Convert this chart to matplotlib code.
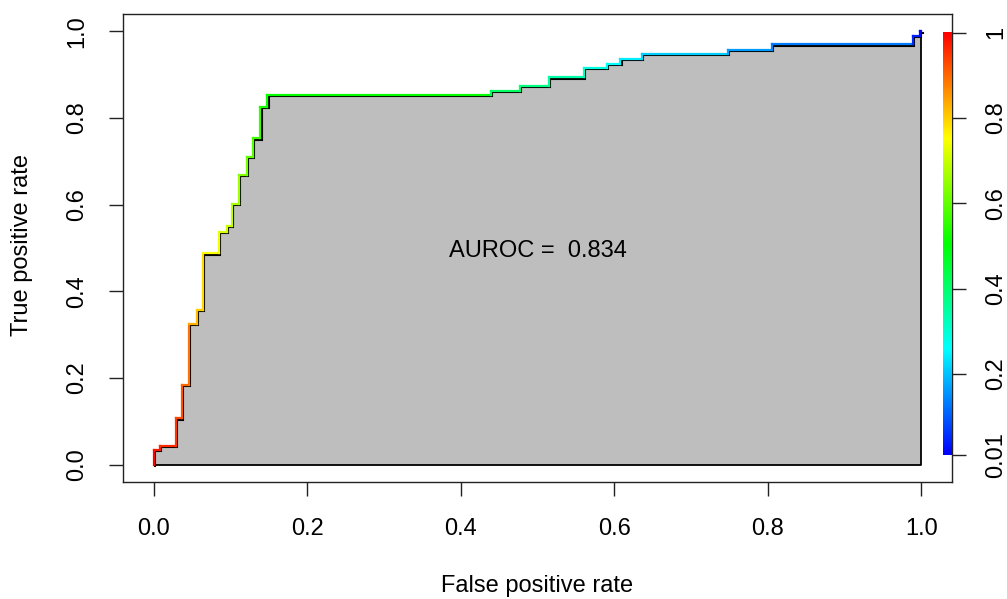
import numpy as np
import matplotlib
matplotlib.use("Agg")
import matplotlib.pyplot as plt
from matplotlib.collections import LineCollection
from matplotlib.colors import hsv_to_rgb, ListedColormap
import matplotlib.transforms as mtransforms

plt.rcParams['font.family'] = ['Liberation Sans', 'DejaVu Sans']

# ROC path vertices (false positive rate, true positive rate) and cutoff at each vertex
fpr = [0.0, 0.0, 0.008, 0.008, 0.029, 0.029, 0.037, 0.037, 0.046, 0.046,
       0.056, 0.056, 0.064, 0.064, 0.085, 0.085, 0.095, 0.095, 0.102, 0.102,
       0.111, 0.111, 0.121, 0.121, 0.129, 0.129, 0.139, 0.139, 0.148, 0.148,
       0.439, 0.439, 0.477, 0.477, 0.515, 0.515, 0.560, 0.560, 0.590, 0.590,
       0.608, 0.608, 0.636, 0.636, 0.748, 0.748, 0.805, 0.805, 0.989, 0.989,
       0.998, 0.998, 1.0]
tpr = [0.0, 0.034, 0.034, 0.044, 0.044, 0.107, 0.107, 0.184, 0.184, 0.325,
       0.325, 0.357, 0.357, 0.488, 0.488, 0.538, 0.538, 0.551, 0.551, 0.602,
       0.602, 0.669, 0.669, 0.711, 0.711, 0.753, 0.753, 0.826, 0.826, 0.853,
       0.853, 0.863, 0.863, 0.874, 0.874, 0.894, 0.894, 0.915, 0.915, 0.925,
       0.925, 0.936, 0.936, 0.948, 0.948, 0.957, 0.957, 0.970, 0.970, 0.989,
       0.989, 1.0, 1.0]
cutoff = [1.0, 0.98, 0.97, 0.96, 0.95, 0.93, 0.92, 0.90, 0.89, 0.83,
          0.82, 0.80, 0.79, 0.75, 0.74, 0.72, 0.71, 0.70, 0.69, 0.67,
          0.66, 0.63, 0.62, 0.60, 0.59, 0.57, 0.56, 0.53, 0.52, 0.51,
          0.42, 0.41, 0.39, 0.38, 0.36, 0.34, 0.31, 0.29, 0.27, 0.26,
          0.25, 0.24, 0.22, 0.21, 0.17, 0.16, 0.14, 0.13, 0.05, 0.04,
          0.02, 0.015, 0.01]
auroc = 0.834

axis_ticks = [0.0, 0.2, 0.4, 0.6, 0.8, 1.0]
axis_labels = ["0.0", "0.2", "0.4", "0.6", "0.8", "1.0"]
cut_ticks = [0.01, 0.2, 0.4, 0.6, 0.8, 1.0]
cut_labels = ["0.01", "0.2", "0.4", "0.6", "0.8", "1"]
cmin, cmax = 0.01, 1.0

def cut_color(c):
    h = (cmax - c) / (cmax - cmin) * (4.0 / 6.0)
    return hsv_to_rgb([h, 1.0, 1.0])

FS = 17
W, H = 1007, 599
fig = plt.figure(figsize=(W / 100, H / 100), dpi=100)
ax = fig.add_axes([123 / W, 1 - 482 / H, (952 - 123) / W, (482 - 14) / H])
ax.set_xlim(-0.04, 1.04)
ax.set_ylim(-0.04, 1.04)

# gray area under curve
px = np.array(fpr + [1.0, 0.0])
py = np.array(tpr + [0.0, 0.0])
ax.fill(px, py, color="#BEBEBE", zorder=1, lw=0)

# black border (slightly offset like R rendering)
off = mtransforms.offset_copy(ax.transData, fig=fig, x=1.3, y=-1.3, units='dots')
ax.plot(fpr, tpr, color='black', lw=1.5, transform=off, zorder=2, solid_joinstyle='miter')
ax.plot([0, 1, 1], [0, 0, 1], color='black', lw=1.3, zorder=2)

# coloured ROC line
pts = np.column_stack([fpr, tpr])
segs = np.stack([pts[:-1], pts[1:]], axis=1)
cols = [cut_color(c) for c in cutoff[:-1]]
lc = LineCollection(segs, colors=cols, linewidths=1.6, zorder=3, capstyle='projecting')
ax.add_collection(lc)

ax.text(0.5, 0.493, "AUROC =  %.3f" % auroc, ha='center', va='center', fontsize=FS, zorder=4)

ax.set_xticks(axis_ticks)
ax.set_xticklabels(axis_labels)
ax.set_yticks(axis_ticks)
ax.set_yticklabels(axis_labels, rotation=90, va='center')
ax.tick_params(axis='x', length=10, width=1, labelsize=FS, pad=16, color='#222222')
ax.tick_params(axis='y', length=10, width=1, labelsize=FS, pad=15, color='#222222')
for s in ax.spines.values():
    s.set_linewidth(1)
    s.set_color('#222222')

# colorbar on the right
tw = ax.twinx()
a_px = 32.7 + (455 - 32.7) / 0.99
b_px = (455 - 32.7) / 0.99
tw.set_ylim((a_px - 482) / b_px, (a_px - 14) / b_px)
grad = np.linspace(cmin, cmax, 256).reshape(-1, 1)
cmap = ListedColormap([cut_color(c) for c in grad[:, 0]])
tw.imshow(grad, extent=[1.0287, 1.04, cmin, cmax], aspect='auto', origin='lower',
          cmap=cmap, zorder=5, interpolation='bilinear')
tw.set_yticks(cut_ticks)
tw.set_yticklabels(cut_labels, rotation=90, va='center')
tw.tick_params(length=10, width=1, labelsize=FS, pad=14, color='#222222')
for s in tw.spines.values():
    s.set_visible(False)
ax.set_xlim(-0.04, 1.04)

fig.text(537.5 / W, 1 - 586 / H, "False positive rate", ha='center', va='center', fontsize=FS)
fig.text(22 / W, 1 - 245 / H, "True positive rate", ha='center', va='center', rotation=90, fontsize=FS)

fig.savefig("out.png", dpi=100)
